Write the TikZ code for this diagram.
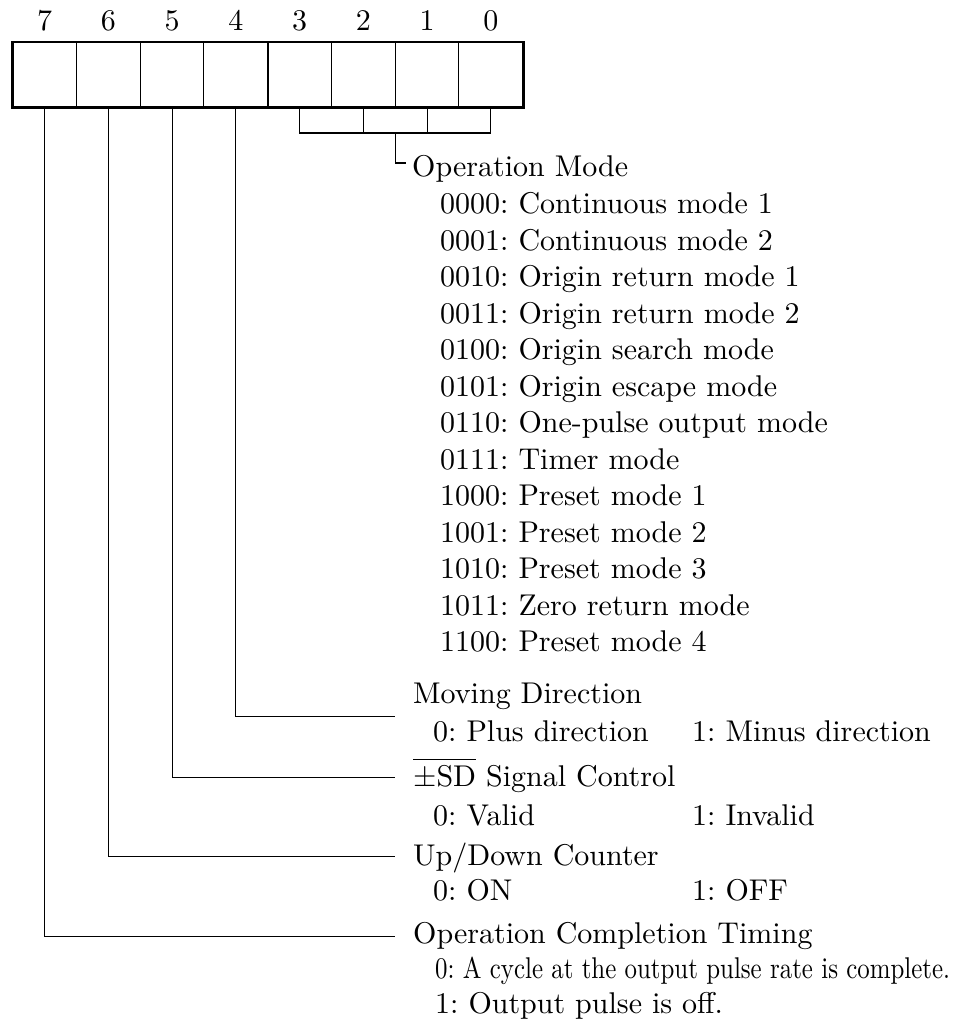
\documentclass[tikz,border=0pt]{standalone}
\usepackage{fontspec}
\setmainfont{lmroman10-regular}[Extension=.otf]
\usepackage{graphicx}
\frenchspacing
\begin{document}
\begin{tikzpicture}[x=1pt,y=-1pt,
  txt/.style={font=\fontsize{30}{36}\selectfont\frenchspacing, inner sep=0pt, anchor=base west},
  num/.style={font=\fontsize{30}{36}\selectfont, inner sep=0pt, anchor=base},
  cell/.style={draw, line width=1pt, minimum width=63.75pt, minimum height=64.6pt, inner sep=0pt},
  conn/.style={line width=1.1pt},
  frame/.style={line width=2.6pt},
  middiv/.style={line width=2pt}]
\useasboundingbox (0,0) rectangle (952,1024);

% register cells (bit 7 .. bit 0)
\foreach \b [count=\i from 0] in {7,6,5,4,3,2,1,0} {
  \node[cell] (c\b) at ({44.6+63.75*\i},75) {};
  \node[num] (n\b) at ({44.6+63.75*\i},30.7) {\b};
}
\draw[frame] (c7.north west) rectangle (c0.south east);
\draw[middiv] (c4.north east) -- (c4.south east);

% bracket for bits 3..0
\coordinate (br) at (395.2,133);
\coordinate (hook) at (406,163);
\draw[conn] (c3.south) |- (br) -| (c0.south);
\draw[conn] (c2.south) -- (c2.south |- br);
\draw[conn] (c1.south) -- (c1.south |- br);
\draw[conn] (br) |- (hook);

% operation mode list
\node[txt] (t0) at (412,177) {Operation Mode};
\foreach \s [count=\k from 0] in {
  {0000: Continuous mode 1},
  {0001: Continuous mode 2},
  {0010: Origin return mode 1},
  {0011: Origin return mode 2},
  {0100: Origin search mode},
  {0101: Origin escape mode},
  {0110: One-pulse output mode},
  {0111: Timer mode},
  {1000: Preset mode 1},
  {1001: Preset mode 2},
  {1010: Preset mode 3},
  {1011: Zero return mode},
  {1100: Preset mode 4}} {
  \node[txt] (m\k) at (440,{213.5+36.5*\k}) {\s};
}

% bit 4
\node[txt] (t4) at (413,703) {Moving Direction};
\node[txt] (t4a) at (433,741.7) {0: Plus direction};
\node[txt] (t4b) at (692,741.7) {1: Minus direction};
\coordinate (e4) at (395,716.7);
\draw[conn] (c4.south) |- (e4);

% bit 5
\node[txt] (t5) at (413,786.7) {$\overline{\hbox{±SD}\rule{0pt}{26pt}}$ Signal Control};
\node[txt] (t5a) at (433,825) {0: Valid};
\node[txt] (t5b) at (692,825) {1: Invalid};
\coordinate (e5) at (395,777.3);
\draw[conn] (c5.south) |- (e5);

% bit 6
\node[txt] (t6) at (413,865) {Up/Down Counter};
\node[txt] (t6a) at (433,900) {0: ON};
\node[txt] (t6b) at (692,900) {1: OFF};
\coordinate (e6) at (395,856.7);
\draw[conn] (c6.south) |- (e6);

% bit 7
\node[txt] (t7) at (413,943) {Operation Completion Timing};
\node[txt] (t7a) at (435,978) {\scalebox{0.83}[1]{0: A cycle at the output pulse rate is complete.}};
\node[txt] (t7b) at (435,1013) {1: Output pulse is off.};
\coordinate (e7) at (395,936.7);
\draw[conn] (c7.south) |- (e7);
\end{tikzpicture}
\end{document}
